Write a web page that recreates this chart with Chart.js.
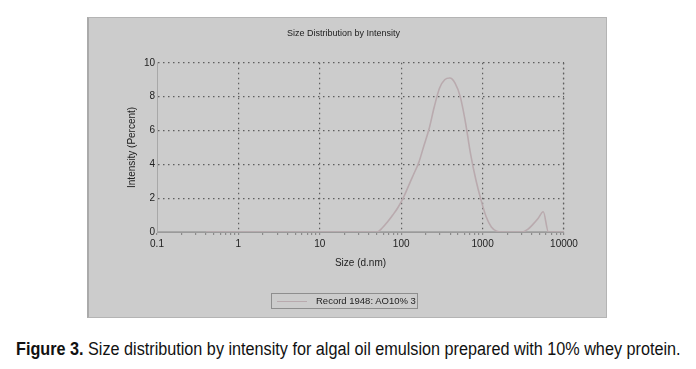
<!DOCTYPE html>
<html>
<head>
<meta charset="utf-8">
<script src="https://cdn.jsdelivr.net/npm/chart.js@4.4.0/dist/chart.umd.min.js"></script>
<style>
  body { margin: 0; background: #fff; width: 696px; height: 369px; position: relative; overflow: hidden; }
  #panel { position: absolute; left: 87px; top: 17px; width: 517px; height: 299px; background: #cccccc;
           border: 1px solid #b4b4b4; border-left: 2px solid #aaaaaa; }
  #wrap { position: absolute; left: 0; top: 0; width: 517px; height: 299px; }
  #legend { position: absolute; left: 182px; top: 275px; width: 145px; height: 14px; border: 1px solid #8e8e8e;
            font: 9.5px "Liberation Sans", Arial, sans-serif; color: #222; line-height: 14px; }
  #legend .swatch { position: absolute; left: 5px; top: 7px; width: 30px; height: 0; border-top: 1px solid #b9aaae; }
  #legend .txt { position: absolute; left: 44px; top: 0; white-space: nowrap; }
  #caption { position: absolute; left: 16px; top: 339px; font: 18px "Liberation Sans", Arial, sans-serif;
             color: #111; white-space: nowrap; transform: scaleX(0.9); transform-origin: 0 0; }
</style>
</head>
<body>
<div id="panel">
  <div id="wrap"><canvas id="sizeChart"></canvas></div>
  <div id="legend"><span class="swatch"></span><span class="txt">Record 1948: AO10% 3</span></div>
</div>
<div id="caption"><b>Figure 3.</b> Size distribution by intensity for algal oil emulsion prepared with 10% whey protein.</div>
<script>
// size bins (d.nm) and intensity (%)
const sizes = [0.4, 50.7, 58.8, 68.1, 78.8, 91.3, 105.7, 122.4, 141.8, 164.2, 190.1, 220.2, 255.0, 295.3,
  342.0, 396.1, 458.7, 531.2, 615.1, 712.4, 825.0, 955.4, 1106, 1281, 1484, 1718, 3091, 3580, 4145,
  4801, 5560, 6439, 10000];
const intensity = [0, 0, 0.25, 0.6, 1.0, 1.45, 2.0, 2.7, 3.4, 4.1, 5.1, 6.1, 7.4, 8.5,
  9.0, 9.1, 8.8, 8.0, 6.5, 4.6, 3.1, 1.9, 0.9, 0.3, 0.05, 0, 0, 0.15, 0.45,
  0.8, 1.2, 0, 0];
const xMajor = [0.1, 1, 10, 100, 1000, 10000];
const xMinor = [0.2, 0.3, 0.4, 0.5, 0.6, 0.7, 0.8, 0.9, 2, 3, 4, 5, 6, 7, 8, 9, 20, 30, 40, 50, 60, 70, 80, 90,
  200, 300, 400, 500, 600, 700, 800, 900, 2000, 3000, 4000, 5000, 6000, 7000, 8000, 9000];
const yTicks = [0, 2, 4, 6, 8, 10];

const fam = '"Liberation Sans", Arial, sans-serif';
const tickFont = { family: fam, size: 10 };
const gridCol = '#5e5e5e';
const isMajor = v => xMajor.some(m => Math.abs(m - v) / m < 1e-6);

document.addEventListener('DOMContentLoaded', () => {
  const ctx = document.getElementById('sizeChart').getContext('2d');
  new Chart(ctx, {
    type: 'line',
    data: {
      datasets: [{
        label: 'Record 1948: AO10% 3',
        data: sizes.map((s, i) => ({ x: s, y: intensity[i] })),
        borderColor: '#b9aaae',
        borderWidth: 1.6,
        pointRadius: 0,
        cubicInterpolationMode: 'monotone',
        fill: false
      }]
    },
    options: {
      responsive: true,
      maintainAspectRatio: false,
      animation: false,
      layout: { padding: { left: 34, right: 42, top: 0, bottom: 44 } },
      plugins: {
        legend: { display: false },
        tooltip: { enabled: false },
        title: {
          display: true,
          text: 'Size Distribution by Intensity',
          color: '#222',
          font: { family: fam, size: 9, weight: 'normal' },
          padding: { top: 10, bottom: 24 }
        }
      },
      scales: {
        x: {
          type: 'logarithmic',
          min: 0.1, max: 10000,
          afterBuildTicks: s => { s.ticks = xMajor.concat(xMinor).map(v => ({ value: v })); },
          ticks: {
            autoSkip: false, maxRotation: 0, color: '#222', font: tickFont, padding: 3,
            callback: v => isMajor(v) ? String(v) : ''
          },
          grid: {
            color: c => isMajor(c.tick.value) && c.tick.value !== 0.1 ? gridCol : 'rgba(0,0,0,0)',
            tickColor: '#8a8a8a',
            tickLength: 3,
            lineWidth: 1.2
          },
          border: { display: true, color: '#9a9a9a', dash: [1.5, 3.5] },
          title: { display: true, text: 'Size (d.nm)', color: '#222', font: tickFont, padding: { top: 4, bottom: 4 } }
        },
        y: {
          min: 0, max: 10,
          afterBuildTicks: s => { s.ticks = yTicks.map(v => ({ value: v })); },
          afterFit: s => { s.width = 34; },
          ticks: { color: '#222', font: tickFont, padding: 2 },
          grid: {
            color: c => c.tick.value === 0 ? 'rgba(0,0,0,0)' : gridCol,
            lineWidth: 1.2,
            drawTicks: false
          },
          border: { display: true, color: '#b0b0b0', dash: [1.5, 3.5] },
          title: { display: true, text: 'Intensity (Percent)', color: '#222', font: tickFont, padding: { top: 3, bottom: 3 } }
        }
      }
    },
    plugins: [{
      id: 'frameLines',
      beforeDatasetsDraw(chart) {
        const a = chart.chartArea, c = chart.ctx;
        c.save();
        // solid axis lines at left and bottom
        c.strokeStyle = '#a8a8a8';
        c.beginPath();
        c.moveTo(a.left + 0.5, a.top); c.lineTo(a.left + 0.5, a.bottom);
        c.moveTo(a.left, a.bottom - 0.5); c.lineTo(a.right, a.bottom - 0.5);
        c.stroke();
        // dotted right edge
        c.strokeStyle = gridCol;
        c.lineWidth = 1.2;
        c.setLineDash([1.5, 3.5]);
        c.beginPath();
        c.moveTo(a.right - 0.5, a.top); c.lineTo(a.right - 0.5, a.bottom);
        c.stroke();
        c.restore();
      }
    }]
  });
});
</script>
</body>
</html>
